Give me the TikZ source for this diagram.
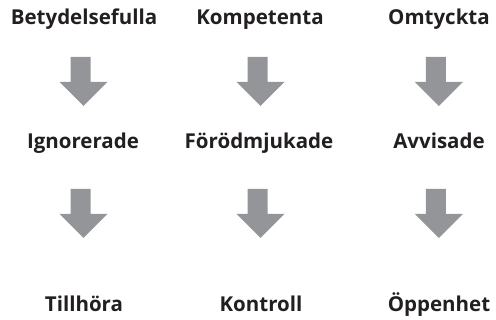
\documentclass[tikz,border=0pt]{standalone}
\usepackage{fontspec}
\setmainfont{Open Sans}
\definecolor{wordgray}{HTML}{231F20}
\definecolor{arrowgray}{HTML}{939598}
\tikzset{word/.style={anchor=base, inner sep=0pt, text=wordgray, font=\bfseries\fontsize{20.5}{24}\selectfont}}

\begin{document}
\begin{tikzpicture}[x=1pt, y=-1pt]

% command drawing dimensions
\newcommand{\shaftl}{13}
\newcommand{\shaftr}{7}
\newcommand{\headw}{24}
\newcommand{\shafth}{25}
\newcommand{\headh}{24}

% block arrow hanging from a named coordinate
\newcommand{\blockarrow}[1]{\fill[arrowgray, shift={(#1)}] (-\shaftl, 0) -- (\shaftr, 0) -- (\shaftr, \shafth) -- (\headw, \shafth) -- (0, \shafth + \headh) -- (-\headw, \shafth) -- (-\shaftl, \shafth) -- cycle;}

% ad hoc bounding box
\useasboundingbox (0, 0) rectangle (496, 320);

% first row
\node[word] (bet) at (84, 24.5) {Betydelsefulla};
\node[word] (kom) at (260, 24.5) {Kompetenta};
\node[word] (omt) at (439, 24.5) {Omtyckta};

% second row
\node[word] (ign) at (83, 149) {Ignorerade};
\node[word] (for) at (259, 149) {Förödmjukade};
\node[word] (avv) at (439, 149) {Avvisade};

% third row
\node[word] (til) at (84, 311.5) {Tillhöra};
\node[word] (kon) at (261, 311.5) {Kontroll};
\node[word] (opp) at (439, 311.5) {Öppenhet};

% arrows
\coordinate (betign) at (83.5, 57);
\coordinate (komfor) at (260.5, 57);
\coordinate (omtavv) at (438.8, 57);
\coordinate (igntil) at (83.5, 189);
\coordinate (forkon) at (260.5, 189);
\coordinate (avvopp) at (438.8, 189);
\blockarrow{betign}
\blockarrow{komfor}
\blockarrow{omtavv}
\blockarrow{igntil}
\blockarrow{forkon}
\blockarrow{avvopp}

\end{tikzpicture}
\end{document}
